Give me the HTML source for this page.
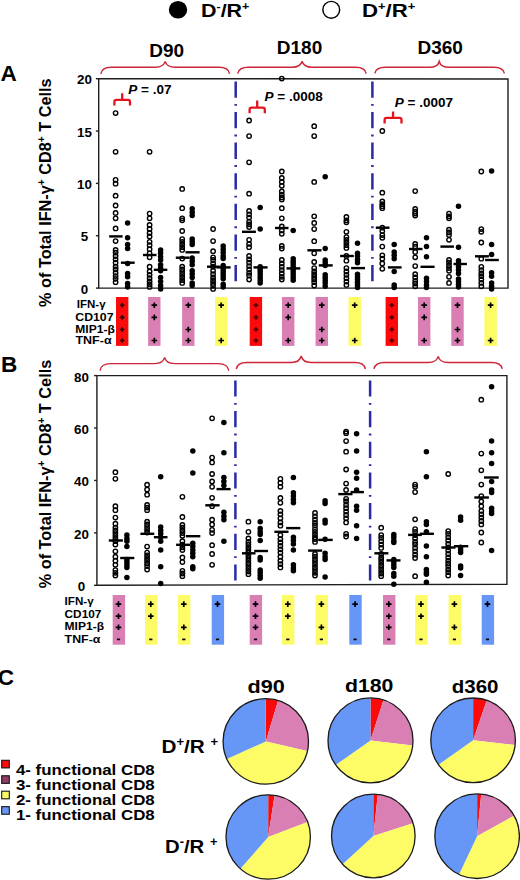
<!DOCTYPE html><html><head><meta charset="utf-8"><style>html,body{margin:0;padding:0;background:#fff;overflow:hidden}svg{display:block}text{font-family:"Liberation Sans",sans-serif;font-weight:bold;fill:#000}</style></head><body><svg width="520" height="880" viewBox="0 0 520 880"><ellipse cx="178" cy="9.8" rx="9.2" ry="8.8" fill="#000"/>
<text transform="translate(201,17.1) scale(1.13,1)" font-size="19" text-anchor="start" >D<tspan font-size="11" dy="-7">-</tspan><tspan dy="7">/R</tspan><tspan font-size="11" dy="-7">+</tspan></text>
<circle cx="331.25" cy="9.75" r="8.4" fill="none" stroke="#000" stroke-width="1.45"/>
<text transform="translate(362,16.9) scale(1.17,1)" font-size="19" text-anchor="start" >D<tspan font-size="11" dy="-7">+</tspan><tspan dy="7">/R</tspan><tspan font-size="11" dy="-7">+</tspan></text>
<text transform="translate(166.7,56.7) scale(1.0,1)" font-size="19" text-anchor="middle" >D90</text>
<text transform="translate(299.5,53.7) scale(1.0,1)" font-size="19" text-anchor="middle" >D180</text>
<text transform="translate(440.2,54) scale(1.0,1)" font-size="19" text-anchor="middle" >D360</text>
<path d="M100.8,73.8 C101.6,69.3 104.8,67.3 111.3,67.3 L155.2,67.3 C161.2,67.3 164.2,65.3 165.2,61.4 C166.2,65.3 169.2,67.3 175.2,67.3 L219.1,67.3 C225.6,67.3 228.79999999999998,69.3 229.6,73.8" fill="none" stroke="#cf2538" stroke-width="1.45"/>
<path d="M237.7,73.6 C238.5,69.3 241.7,67.3 248.2,67.3 L292.1,67.3 C298.1,67.3 301.1,65.3 302.1,61.3 C303.1,65.3 306.1,67.3 312.1,67.3 L355.7,67.3 C362.2,67.3 365.4,69.3 366.2,73.6" fill="none" stroke="#cf2538" stroke-width="1.45"/>
<path d="M374.8,73.4 C375.6,69.3 378.8,67.3 385.3,67.3 L429.2,67.3 C435.2,67.3 438.2,65.3 439.2,61.5 C440.2,65.3 443.2,67.3 449.2,67.3 L493.9,67.3 C500.4,67.3 503.59999999999997,69.3 504.4,73.4" fill="none" stroke="#cf2538" stroke-width="1.45"/>
<path d="M100,370.6 C100.8,365.6 104,363.6 110.5,363.6 L154.6,363.6 C160.6,363.6 163.6,361.6 164.6,357.4 C165.6,361.6 168.6,363.6 174.6,363.6 L218.3,363.6 C224.8,363.6 228.0,365.6 228.8,370.6" fill="none" stroke="#cf2538" stroke-width="1.45"/>
<path d="M236.3,369 C237.10000000000002,364.5 240.3,362.5 246.8,362.5 L291.2,362.5 C297.2,362.5 300.2,360.5 301.2,356 C302.2,360.5 305.2,362.5 311.2,362.5 L354.9,362.5 C361.4,362.5 364.59999999999997,364.5 365.4,369" fill="none" stroke="#cf2538" stroke-width="1.45"/>
<path d="M374,368.8 C374.8,364.4 378,362.4 384.5,362.4 L428.2,362.4 C434.2,362.4 437.2,360.4 438.2,356.3 C439.2,360.4 442.2,362.4 448.2,362.4 L491.7,362.4 C498.2,362.4 501.4,364.4 502.2,368.8" fill="none" stroke="#cf2538" stroke-width="1.45"/>
<text transform="translate(0.6,81.3) scale(1.05,1)" font-size="21.5" text-anchor="start" >A</text>
<text transform="translate(1.0,371.8) scale(1.05,1)" font-size="21.5" text-anchor="start" >B</text>
<text transform="translate(-2.3,684.8) scale(1.05,1)" font-size="21.5" text-anchor="start" >C</text>
<text transform="translate(50.8,192.7) rotate(-90)" font-size="16.3" text-anchor="middle">% of Total IFN-&#947;<tspan font-size="10" dy="-6">+</tspan><tspan dy="6"> CD8</tspan><tspan font-size="10" dy="-6">+</tspan><tspan dy="6"> T Cells</tspan></text>
<text transform="translate(51.2,474) rotate(-90)" font-size="16.3" text-anchor="middle">% of Total IFN-&#947;<tspan font-size="10" dy="-6">+</tspan><tspan dy="6"> CD8</tspan><tspan font-size="10" dy="-6">+</tspan><tspan dy="6"> T Cells</tspan></text>
<path d="M98.7,78.7 L508,79.0 L508,288.1 L98.7,288.1 Z" fill="none" stroke="#1e1e1e" stroke-width="1.4"/>
<line x1="95.9" y1="288.1" x2="98.7" y2="288.1" stroke="#1e1e1e" stroke-width="1.4"/>
<text transform="translate(84.5,293.6) scale(1.0,1)" font-size="13.4" text-anchor="middle" >0</text>
<line x1="95.9" y1="235.75" x2="98.7" y2="235.75" stroke="#1e1e1e" stroke-width="1.4"/>
<text transform="translate(84.5,241.25) scale(1.0,1)" font-size="13.4" text-anchor="middle" >5</text>
<line x1="95.9" y1="183.4" x2="98.7" y2="183.4" stroke="#1e1e1e" stroke-width="1.4"/>
<text transform="translate(84.5,188.9) scale(1.0,1)" font-size="13.4" text-anchor="middle" >10</text>
<line x1="95.9" y1="131.05" x2="98.7" y2="131.05" stroke="#1e1e1e" stroke-width="1.4"/>
<text transform="translate(84.5,136.55) scale(1.0,1)" font-size="13.4" text-anchor="middle" >15</text>
<line x1="95.9" y1="78.69999999999999" x2="98.7" y2="78.69999999999999" stroke="#1e1e1e" stroke-width="1.4"/>
<text transform="translate(84.5,84.19999999999999) scale(1.0,1)" font-size="13.4" text-anchor="middle" >20</text>
<path d="M96.9,375.6 L506.9,375.6 L506.9,584.1999999999999 L96.9,585.3 Z" fill="none" stroke="#1e1e1e" stroke-width="1.4"/>
<line x1="94.10000000000001" y1="585.3" x2="96.9" y2="585.3" stroke="#1e1e1e" stroke-width="1.4"/>
<text transform="translate(81.5,591.1999999999999) scale(1.0,1)" font-size="13.4" text-anchor="middle" >0</text>
<line x1="94.10000000000001" y1="532.875" x2="96.9" y2="532.875" stroke="#1e1e1e" stroke-width="1.4"/>
<text transform="translate(81.5,538.775) scale(1.0,1)" font-size="13.4" text-anchor="middle" >20</text>
<line x1="94.10000000000001" y1="480.45" x2="96.9" y2="480.45" stroke="#1e1e1e" stroke-width="1.4"/>
<text transform="translate(81.5,486.34999999999997) scale(1.0,1)" font-size="13.4" text-anchor="middle" >40</text>
<line x1="94.10000000000001" y1="428.025" x2="96.9" y2="428.025" stroke="#1e1e1e" stroke-width="1.4"/>
<text transform="translate(81.5,433.92499999999995) scale(1.0,1)" font-size="13.4" text-anchor="middle" >60</text>
<line x1="94.10000000000001" y1="375.6" x2="96.9" y2="375.6" stroke="#1e1e1e" stroke-width="1.4"/>
<text transform="translate(81.5,381.5) scale(1.0,1)" font-size="13.4" text-anchor="middle" >80</text>
<line x1="235.7" y1="81.4" x2="235.7" y2="285" stroke="#2a2aa6" stroke-width="2.5" stroke-dasharray="16.3 6.2 1.9 6.2"/>
<line x1="372.4" y1="81.4" x2="372.4" y2="285" stroke="#2a2aa6" stroke-width="2.5" stroke-dasharray="16.3 6.2 1.9 6.2"/>
<line x1="235.4" y1="380.4" x2="235.4" y2="582.5" stroke="#2a2aa6" stroke-width="2.5" stroke-dasharray="16.2 6.35 1.8 6.32"/>
<line x1="370.1" y1="380.4" x2="370.1" y2="582.5" stroke="#2a2aa6" stroke-width="2.5" stroke-dasharray="16.2 6.35 1.8 6.32"/>
<text transform="translate(76.8,307.75) scale(1.096,1)" font-size="10.5" text-anchor="start" >IFN-&#947;</text>
<text transform="translate(75.3,321.1) scale(1.171,1)" font-size="10.5" text-anchor="start" >CD107</text>
<text transform="translate(75.3,332.75) scale(1.149,1)" font-size="10.5" text-anchor="start" >MIP1-&#946;</text>
<text transform="translate(75.5,344.25) scale(1.189,1)" font-size="10.5" text-anchor="start" >TNF-&#945;</text>
<rect x="116.0" y="297" width="12.4" height="48.9" fill="#fa0a0a"/>
<path d="M119.9,305.2 H124.5 M122.2,302.9 V307.5" stroke="#3a0000" stroke-width="1.6"/>
<path d="M119.9,317.4 H124.5 M122.2,315.09999999999997 V319.7" stroke="#3a0000" stroke-width="1.6"/>
<path d="M119.9,329.5 H124.5 M122.2,327.2 V331.8" stroke="#3a0000" stroke-width="1.6"/>
<path d="M119.9,340.5 H124.5 M122.2,338.2 V342.8" stroke="#3a0000" stroke-width="1.6"/>
<rect x="148.1" y="297" width="12.4" height="48.9" fill="#da7fb4"/>
<path d="M151.49999999999997,305.2 H157.1 M154.29999999999998,302.4 V308.0" stroke="#000" stroke-width="1.7"/>
<path d="M151.49999999999997,317.4 H157.1 M154.29999999999998,314.59999999999997 V320.2" stroke="#000" stroke-width="1.7"/>
<path d="M151.49999999999997,340.5 H157.1 M154.29999999999998,337.7 V343.3" stroke="#000" stroke-width="1.7"/>
<rect x="182.1" y="297" width="12.4" height="48.9" fill="#da7fb4"/>
<path d="M185.49999999999997,305.2 H191.1 M188.29999999999998,302.4 V308.0" stroke="#000" stroke-width="1.7"/>
<path d="M185.49999999999997,329.5 H191.1 M188.29999999999998,326.7 V332.3" stroke="#000" stroke-width="1.7"/>
<path d="M185.49999999999997,340.5 H191.1 M188.29999999999998,337.7 V343.3" stroke="#000" stroke-width="1.7"/>
<rect x="215" y="297" width="12.4" height="48.9" fill="#fdfc66"/>
<path d="M218.39999999999998,305.2 H224.0 M221.2,302.4 V308.0" stroke="#000" stroke-width="1.7"/>
<path d="M218.39999999999998,340.5 H224.0 M221.2,337.7 V343.3" stroke="#000" stroke-width="1.7"/>
<rect x="249.7" y="297" width="12.4" height="48.9" fill="#fa0a0a"/>
<path d="M253.59999999999997,305.2 H258.2 M255.89999999999998,302.9 V307.5" stroke="#3a0000" stroke-width="1.6"/>
<path d="M253.59999999999997,317.4 H258.2 M255.89999999999998,315.09999999999997 V319.7" stroke="#3a0000" stroke-width="1.6"/>
<path d="M253.59999999999997,329.5 H258.2 M255.89999999999998,327.2 V331.8" stroke="#3a0000" stroke-width="1.6"/>
<path d="M253.59999999999997,340.5 H258.2 M255.89999999999998,338.2 V342.8" stroke="#3a0000" stroke-width="1.6"/>
<rect x="282" y="297" width="12.4" height="48.9" fill="#da7fb4"/>
<path d="M285.4,305.2 H291.0 M288.2,302.4 V308.0" stroke="#000" stroke-width="1.7"/>
<path d="M285.4,317.4 H291.0 M288.2,314.59999999999997 V320.2" stroke="#000" stroke-width="1.7"/>
<path d="M285.4,340.5 H291.0 M288.2,337.7 V343.3" stroke="#000" stroke-width="1.7"/>
<rect x="315.6" y="297" width="12.4" height="48.9" fill="#da7fb4"/>
<path d="M319.0,305.2 H324.6 M321.8,302.4 V308.0" stroke="#000" stroke-width="1.7"/>
<path d="M319.0,329.5 H324.6 M321.8,326.7 V332.3" stroke="#000" stroke-width="1.7"/>
<path d="M319.0,340.5 H324.6 M321.8,337.7 V343.3" stroke="#000" stroke-width="1.7"/>
<rect x="348.5" y="297" width="12.4" height="48.9" fill="#fdfc66"/>
<path d="M351.9,305.2 H357.5 M354.7,302.4 V308.0" stroke="#000" stroke-width="1.7"/>
<path d="M351.9,340.5 H357.5 M354.7,337.7 V343.3" stroke="#000" stroke-width="1.7"/>
<rect x="385.6" y="297" width="12.4" height="48.9" fill="#fa0a0a"/>
<path d="M389.5,305.2 H394.1 M391.8,302.9 V307.5" stroke="#3a0000" stroke-width="1.6"/>
<path d="M389.5,317.4 H394.1 M391.8,315.09999999999997 V319.7" stroke="#3a0000" stroke-width="1.6"/>
<path d="M389.5,329.5 H394.1 M391.8,327.2 V331.8" stroke="#3a0000" stroke-width="1.6"/>
<path d="M389.5,340.5 H394.1 M391.8,338.2 V342.8" stroke="#3a0000" stroke-width="1.6"/>
<rect x="418" y="297" width="12.4" height="48.9" fill="#da7fb4"/>
<path d="M421.4,305.2 H427.0 M424.2,302.4 V308.0" stroke="#000" stroke-width="1.7"/>
<path d="M421.4,317.4 H427.0 M424.2,314.59999999999997 V320.2" stroke="#000" stroke-width="1.7"/>
<path d="M421.4,340.5 H427.0 M424.2,337.7 V343.3" stroke="#000" stroke-width="1.7"/>
<rect x="451.3" y="297" width="12.4" height="48.9" fill="#da7fb4"/>
<path d="M454.7,305.2 H460.3 M457.5,302.4 V308.0" stroke="#000" stroke-width="1.7"/>
<path d="M454.7,329.5 H460.3 M457.5,326.7 V332.3" stroke="#000" stroke-width="1.7"/>
<path d="M454.7,340.5 H460.3 M457.5,337.7 V343.3" stroke="#000" stroke-width="1.7"/>
<rect x="484.4" y="297" width="12.4" height="48.9" fill="#fdfc66"/>
<path d="M487.79999999999995,305.2 H493.4 M490.59999999999997,302.4 V308.0" stroke="#000" stroke-width="1.7"/>
<path d="M487.79999999999995,340.5 H493.4 M490.59999999999997,337.7 V343.3" stroke="#000" stroke-width="1.7"/>
<text transform="translate(64.6,605.2) scale(1.108,1)" font-size="10.5" text-anchor="start" >IFN-&#947;</text>
<text transform="translate(64.6,618) scale(1.124,1)" font-size="10.5" text-anchor="start" >CD107</text>
<text transform="translate(64.6,629.7) scale(1.146,1)" font-size="10.5" text-anchor="start" >MIP1-&#946;</text>
<text transform="translate(64.6,642.5) scale(1.179,1)" font-size="10.5" text-anchor="start" >TNF-&#945;</text>
<rect x="112.7" y="595" width="12.4" height="49.7" fill="#da7fb4"/>
<path d="M115.7,604.1 H121.3 M118.5,601.3000000000001 V606.9" stroke="#000" stroke-width="1.7"/>
<path d="M115.7,616.2 H121.3 M118.5,613.4000000000001 V619.0" stroke="#000" stroke-width="1.7"/>
<path d="M115.7,627.3 H121.3 M118.5,624.5 V630.0999999999999" stroke="#000" stroke-width="1.7"/>
<path d="M116.9,639.4 H120.1" stroke="#000" stroke-width="1.7"/>
<rect x="145.0" y="595" width="12.4" height="49.7" fill="#fdfc66"/>
<path d="M148.0,604.1 H153.60000000000002 M150.8,601.3000000000001 V606.9" stroke="#000" stroke-width="1.7"/>
<path d="M148.0,616.2 H153.60000000000002 M150.8,613.4000000000001 V619.0" stroke="#000" stroke-width="1.7"/>
<path d="M149.20000000000002,639.4 H152.4" stroke="#000" stroke-width="1.7"/>
<rect x="178.0" y="595" width="12.4" height="49.7" fill="#fdfc66"/>
<path d="M181.0,604.1 H186.60000000000002 M183.8,601.3000000000001 V606.9" stroke="#000" stroke-width="1.7"/>
<path d="M181.0,627.3 H186.60000000000002 M183.8,624.5 V630.0999999999999" stroke="#000" stroke-width="1.7"/>
<path d="M182.20000000000002,639.4 H185.4" stroke="#000" stroke-width="1.7"/>
<rect x="211.7" y="595" width="12.4" height="49.7" fill="#6697f7"/>
<path d="M214.7,604.1 H220.3 M217.5,601.3000000000001 V606.9" stroke="#000" stroke-width="1.7"/>
<path d="M215.9,639.4 H219.1" stroke="#000" stroke-width="1.7"/>
<rect x="249.7" y="595" width="12.4" height="49.7" fill="#da7fb4"/>
<path d="M252.7,604.1 H258.3 M255.5,601.3000000000001 V606.9" stroke="#000" stroke-width="1.7"/>
<path d="M252.7,616.2 H258.3 M255.5,613.4000000000001 V619.0" stroke="#000" stroke-width="1.7"/>
<path d="M252.7,627.3 H258.3 M255.5,624.5 V630.0999999999999" stroke="#000" stroke-width="1.7"/>
<path d="M253.9,639.4 H257.1" stroke="#000" stroke-width="1.7"/>
<rect x="282" y="595" width="12.4" height="49.7" fill="#fdfc66"/>
<path d="M285.0,604.1 H290.6 M287.8,601.3000000000001 V606.9" stroke="#000" stroke-width="1.7"/>
<path d="M285.0,616.2 H290.6 M287.8,613.4000000000001 V619.0" stroke="#000" stroke-width="1.7"/>
<path d="M286.2,639.4 H289.40000000000003" stroke="#000" stroke-width="1.7"/>
<rect x="315.6" y="595" width="12.4" height="49.7" fill="#fdfc66"/>
<path d="M318.6,604.1 H324.20000000000005 M321.40000000000003,601.3000000000001 V606.9" stroke="#000" stroke-width="1.7"/>
<path d="M318.6,627.3 H324.20000000000005 M321.40000000000003,624.5 V630.0999999999999" stroke="#000" stroke-width="1.7"/>
<path d="M319.8,639.4 H323.00000000000006" stroke="#000" stroke-width="1.7"/>
<rect x="349.3" y="595" width="12.4" height="49.7" fill="#6697f7"/>
<path d="M352.3,604.1 H357.90000000000003 M355.1,601.3000000000001 V606.9" stroke="#000" stroke-width="1.7"/>
<path d="M353.5,639.4 H356.70000000000005" stroke="#000" stroke-width="1.7"/>
<rect x="383" y="595" width="12.4" height="49.7" fill="#da7fb4"/>
<path d="M386.0,604.1 H391.6 M388.8,601.3000000000001 V606.9" stroke="#000" stroke-width="1.7"/>
<path d="M386.0,616.2 H391.6 M388.8,613.4000000000001 V619.0" stroke="#000" stroke-width="1.7"/>
<path d="M386.0,627.3 H391.6 M388.8,624.5 V630.0999999999999" stroke="#000" stroke-width="1.7"/>
<path d="M387.2,639.4 H390.40000000000003" stroke="#000" stroke-width="1.7"/>
<rect x="415.2" y="595" width="12.4" height="49.7" fill="#fdfc66"/>
<path d="M418.2,604.1 H423.8 M421.0,601.3000000000001 V606.9" stroke="#000" stroke-width="1.7"/>
<path d="M418.2,616.2 H423.8 M421.0,613.4000000000001 V619.0" stroke="#000" stroke-width="1.7"/>
<path d="M419.4,639.4 H422.6" stroke="#000" stroke-width="1.7"/>
<rect x="448.6" y="595" width="12.4" height="49.7" fill="#fdfc66"/>
<path d="M451.6,604.1 H457.20000000000005 M454.40000000000003,601.3000000000001 V606.9" stroke="#000" stroke-width="1.7"/>
<path d="M451.6,627.3 H457.20000000000005 M454.40000000000003,624.5 V630.0999999999999" stroke="#000" stroke-width="1.7"/>
<path d="M452.8,639.4 H456.00000000000006" stroke="#000" stroke-width="1.7"/>
<rect x="481.7" y="595" width="12.4" height="49.7" fill="#6697f7"/>
<path d="M484.7,604.1 H490.3 M487.5,601.3000000000001 V606.9" stroke="#000" stroke-width="1.7"/>
<path d="M485.9,639.4 H489.1" stroke="#000" stroke-width="1.7"/>
<rect x="1.7" y="760.3" width="7.6" height="7.6" fill="#fa0a0a" stroke="#151515" stroke-width="1.1"/>
<text transform="translate(15.9,774.6) scale(1.09,1)" font-size="15.5" text-anchor="start" >4- functional CD8</text>
<rect x="1.7" y="775.75" width="7.6" height="7.6" fill="#8e3d66" stroke="#151515" stroke-width="1.1"/>
<text transform="translate(15.9,789.75) scale(1.09,1)" font-size="15.5" text-anchor="start" >3- functional CD8</text>
<rect x="1.7" y="791.1999999999999" width="7.6" height="7.6" fill="#fdfc66" stroke="#151515" stroke-width="1.1"/>
<text transform="translate(15.9,804.9) scale(1.09,1)" font-size="15.5" text-anchor="start" >2- functional CD8</text>
<rect x="1.7" y="806.65" width="7.6" height="7.6" fill="#6697f7" stroke="#151515" stroke-width="1.1"/>
<text transform="translate(15.9,820.0500000000001) scale(1.09,1)" font-size="15.5" text-anchor="start" >1- functional CD8</text>
<text transform="translate(266.1,693) scale(1.14,1)" font-size="19" text-anchor="middle" >d90</text>
<text transform="translate(369.2,691.8) scale(1.12,1)" font-size="19" text-anchor="middle" >d180</text>
<text transform="translate(475.1,693.2) scale(1.08,1)" font-size="19" text-anchor="middle" >d360</text>
<text transform="translate(161.5,753.3) scale(1.09,1)" font-size="19" text-anchor="start" >D<tspan font-size="12" dy="-7">+</tspan><tspan dy="7">/R </tspan><tspan font-size="12" dy="-7">+</tspan></text>
<text transform="translate(165,853) scale(1.07,1)" font-size="19" text-anchor="start" >D<tspan font-size="12" dy="-7">-</tspan><tspan dy="7">/R </tspan><tspan font-size="12" dy="-7">+</tspan></text>
<path d="M265.8,741.4 L265.80,698.70 A42.7,42.7 0 0 1 278.14,700.52 Z" fill="#fa0a0a"/><path d="M265.8,741.4 L278.14,700.52 A42.7,42.7 0 0 1 307.39,751.08 Z" fill="#da7fb4"/><path d="M265.8,741.4 L307.39,751.08 A42.7,42.7 0 0 1 226.85,758.90 Z" fill="#fdfc66"/><path d="M265.8,741.4 L226.85,758.90 A42.7,42.7 0 0 1 265.80,698.70 Z" fill="#6697f7"/><circle cx="265.8" cy="741.4" r="42.7" fill="none" stroke="#1a1a1a" stroke-width="1.3"/>
<path d="M268.2,837 L268.20,794.80 A42.2,42.2 0 0 1 274.58,795.29 Z" fill="#fa0a0a"/><path d="M268.2,837 L274.58,795.29 A42.2,42.2 0 0 1 307.68,822.08 Z" fill="#da7fb4"/><path d="M268.2,837 L307.68,822.08 A42.2,42.2 0 0 1 240.40,868.75 Z" fill="#fdfc66"/><path d="M268.2,837 L240.40,868.75 A42.2,42.2 0 0 1 268.20,794.80 Z" fill="#6697f7"/><circle cx="268.2" cy="837" r="42.2" fill="none" stroke="#1a1a1a" stroke-width="1.3"/>
<path d="M370.5,740.4 L370.50,697.90 A42.5,42.5 0 0 1 383.49,699.93 Z" fill="#fa0a0a"/><path d="M370.5,740.4 L383.49,699.93 A42.5,42.5 0 0 1 412.69,745.51 Z" fill="#da7fb4"/><path d="M370.5,740.4 L412.69,745.51 A42.5,42.5 0 0 1 335.77,764.90 Z" fill="#fdfc66"/><path d="M370.5,740.4 L335.77,764.90 A42.5,42.5 0 0 1 370.50,697.90 Z" fill="#6697f7"/><circle cx="370.5" cy="740.4" r="42.5" fill="none" stroke="#1a1a1a" stroke-width="1.3"/>
<path d="M373.3,836 L373.30,794.20 A41.8,41.8 0 0 1 377.81,794.44 Z" fill="#fa0a0a"/><path d="M373.3,836 L377.81,794.44 A41.8,41.8 0 0 1 413.12,823.29 Z" fill="#da7fb4"/><path d="M373.3,836 L413.12,823.29 A41.8,41.8 0 0 1 342.53,864.29 Z" fill="#fdfc66"/><path d="M373.3,836 L342.53,864.29 A41.8,41.8 0 0 1 373.30,794.20 Z" fill="#6697f7"/><circle cx="373.3" cy="836" r="41.8" fill="none" stroke="#1a1a1a" stroke-width="1.3"/>
<path d="M473.1,740.3 L473.10,698.00 A42.3,42.3 0 0 1 486.80,700.28 Z" fill="#fa0a0a"/><path d="M473.1,740.3 L486.80,700.28 A42.3,42.3 0 0 1 515.13,745.09 Z" fill="#da7fb4"/><path d="M473.1,740.3 L515.13,745.09 A42.3,42.3 0 0 1 438.53,764.68 Z" fill="#fdfc66"/><path d="M473.1,740.3 L438.53,764.68 A42.3,42.3 0 0 1 473.10,698.00 Z" fill="#6697f7"/><circle cx="473.1" cy="740.3" r="42.3" fill="none" stroke="#1a1a1a" stroke-width="1.3"/>
<path d="M477.1,836.2 L477.10,793.90 A42.3,42.3 0 0 1 481.23,794.10 Z" fill="#fa0a0a"/><path d="M477.1,836.2 L481.23,794.10 A42.3,42.3 0 0 1 514.06,815.63 Z" fill="#da7fb4"/><path d="M477.1,836.2 L514.06,815.63 A42.3,42.3 0 0 1 459.02,874.44 Z" fill="#fdfc66"/><path d="M477.1,836.2 L459.02,874.44 A42.3,42.3 0 0 1 477.10,793.90 Z" fill="#6697f7"/><circle cx="477.1" cy="836.2" r="42.3" fill="none" stroke="#1a1a1a" stroke-width="1.3"/>
<circle cx="115.6" cy="113.1" r="2.2" fill="none" stroke="#000" stroke-width="1.4"/>
<circle cx="115.6" cy="151.8" r="2.2" fill="none" stroke="#000" stroke-width="1.4"/>
<circle cx="115.6" cy="179.8" r="2.2" fill="none" stroke="#000" stroke-width="1.4"/>
<circle cx="115.6" cy="183.7" r="2.2" fill="none" stroke="#000" stroke-width="1.4"/>
<circle cx="115.6" cy="195.7" r="2.2" fill="none" stroke="#000" stroke-width="1.4"/>
<circle cx="115.6" cy="205.5" r="2.2" fill="none" stroke="#000" stroke-width="1.4"/>
<circle cx="115.6" cy="212.9" r="2.2" fill="none" stroke="#000" stroke-width="1.4"/>
<circle cx="115.6" cy="218.3" r="2.2" fill="none" stroke="#000" stroke-width="1.4"/>
<circle cx="115.6" cy="228.4" r="2.2" fill="none" stroke="#000" stroke-width="1.4"/>
<circle cx="115.6" cy="241.1" r="2.2" fill="none" stroke="#000" stroke-width="1.4"/>
<circle cx="115.6" cy="249.9" r="2.2" fill="none" stroke="#000" stroke-width="1.4"/>
<circle cx="115.6" cy="252.6" r="2.2" fill="none" stroke="#000" stroke-width="1.4"/>
<circle cx="115.6" cy="256" r="2.2" fill="none" stroke="#000" stroke-width="1.4"/>
<circle cx="115.6" cy="259.3" r="2.2" fill="none" stroke="#000" stroke-width="1.4"/>
<circle cx="115.6" cy="262.7" r="2.2" fill="none" stroke="#000" stroke-width="1.4"/>
<circle cx="115.6" cy="266.7" r="2.2" fill="none" stroke="#000" stroke-width="1.4"/>
<circle cx="115.6" cy="269.4" r="2.2" fill="none" stroke="#000" stroke-width="1.4"/>
<circle cx="115.6" cy="272.8" r="2.2" fill="none" stroke="#000" stroke-width="1.4"/>
<circle cx="115.6" cy="276.1" r="2.2" fill="none" stroke="#000" stroke-width="1.4"/>
<circle cx="115.6" cy="278.8" r="2.2" fill="none" stroke="#000" stroke-width="1.4"/>
<circle cx="115.6" cy="282.2" r="2.2" fill="none" stroke="#000" stroke-width="1.4"/>
<circle cx="127.6" cy="223" r="2.75" fill="#000"/>
<circle cx="127.6" cy="237.8" r="2.75" fill="#000"/>
<circle cx="127.6" cy="244.5" r="2.75" fill="#000"/>
<circle cx="127.6" cy="248.5" r="2.75" fill="#000"/>
<circle cx="127.6" cy="263.4" r="2.75" fill="#000"/>
<circle cx="127.6" cy="273.4" r="2.75" fill="#000"/>
<circle cx="127.6" cy="276.8" r="2.75" fill="#000"/>
<circle cx="127.6" cy="283.5" r="2.75" fill="#000"/>
<circle cx="127.6" cy="287" r="2.75" fill="#000"/>
<circle cx="149.6" cy="151.8" r="2.2" fill="none" stroke="#000" stroke-width="1.4"/>
<circle cx="149.6" cy="213.6" r="2.2" fill="none" stroke="#000" stroke-width="1.4"/>
<circle cx="149.6" cy="218.3" r="2.2" fill="none" stroke="#000" stroke-width="1.4"/>
<circle cx="149.6" cy="225" r="2.2" fill="none" stroke="#000" stroke-width="1.4"/>
<circle cx="149.6" cy="229" r="2.2" fill="none" stroke="#000" stroke-width="1.4"/>
<circle cx="149.6" cy="233" r="2.2" fill="none" stroke="#000" stroke-width="1.4"/>
<circle cx="149.6" cy="236.4" r="2.2" fill="none" stroke="#000" stroke-width="1.4"/>
<circle cx="149.6" cy="241.8" r="2.2" fill="none" stroke="#000" stroke-width="1.4"/>
<circle cx="149.6" cy="245.2" r="2.2" fill="none" stroke="#000" stroke-width="1.4"/>
<circle cx="149.6" cy="249.2" r="2.2" fill="none" stroke="#000" stroke-width="1.4"/>
<circle cx="149.6" cy="253.3" r="2.2" fill="none" stroke="#000" stroke-width="1.4"/>
<circle cx="149.6" cy="257.3" r="2.2" fill="none" stroke="#000" stroke-width="1.4"/>
<circle cx="149.6" cy="266.7" r="2.2" fill="none" stroke="#000" stroke-width="1.4"/>
<circle cx="149.6" cy="271.4" r="2.2" fill="none" stroke="#000" stroke-width="1.4"/>
<circle cx="149.6" cy="274.8" r="2.2" fill="none" stroke="#000" stroke-width="1.4"/>
<circle cx="149.6" cy="278.2" r="2.2" fill="none" stroke="#000" stroke-width="1.4"/>
<circle cx="149.6" cy="281.5" r="2.2" fill="none" stroke="#000" stroke-width="1.4"/>
<circle cx="149.6" cy="284.2" r="2.2" fill="none" stroke="#000" stroke-width="1.4"/>
<circle cx="149.6" cy="286.9" r="2.2" fill="none" stroke="#000" stroke-width="1.4"/>
<circle cx="160.6" cy="249.9" r="2.75" fill="#000"/>
<circle cx="160.6" cy="253.3" r="2.75" fill="#000"/>
<circle cx="160.6" cy="256.6" r="2.75" fill="#000"/>
<circle cx="160.6" cy="260" r="2.75" fill="#000"/>
<circle cx="160.6" cy="264.7" r="2.75" fill="#000"/>
<circle cx="160.6" cy="268" r="2.75" fill="#000"/>
<circle cx="160.6" cy="270.8" r="2.75" fill="#000"/>
<circle cx="160.6" cy="277.5" r="2.75" fill="#000"/>
<circle cx="160.6" cy="281.5" r="2.75" fill="#000"/>
<circle cx="160.6" cy="285.6" r="2.75" fill="#000"/>
<circle cx="160.6" cy="289" r="2.75" fill="#000"/>
<circle cx="182.2" cy="188.9" r="2.2" fill="none" stroke="#000" stroke-width="1.4"/>
<circle cx="182.2" cy="208.2" r="2.2" fill="none" stroke="#000" stroke-width="1.4"/>
<circle cx="182.2" cy="218.3" r="2.2" fill="none" stroke="#000" stroke-width="1.4"/>
<circle cx="182.2" cy="220.3" r="2.2" fill="none" stroke="#000" stroke-width="1.4"/>
<circle cx="182.2" cy="231" r="2.2" fill="none" stroke="#000" stroke-width="1.4"/>
<circle cx="182.2" cy="239.1" r="2.2" fill="none" stroke="#000" stroke-width="1.4"/>
<circle cx="182.2" cy="241.8" r="2.2" fill="none" stroke="#000" stroke-width="1.4"/>
<circle cx="182.2" cy="244.5" r="2.2" fill="none" stroke="#000" stroke-width="1.4"/>
<circle cx="182.2" cy="247.2" r="2.2" fill="none" stroke="#000" stroke-width="1.4"/>
<circle cx="182.2" cy="249.9" r="2.2" fill="none" stroke="#000" stroke-width="1.4"/>
<circle cx="182.2" cy="258.6" r="2.2" fill="none" stroke="#000" stroke-width="1.4"/>
<circle cx="182.2" cy="266.7" r="2.2" fill="none" stroke="#000" stroke-width="1.4"/>
<circle cx="182.2" cy="269.4" r="2.2" fill="none" stroke="#000" stroke-width="1.4"/>
<circle cx="182.2" cy="272.1" r="2.2" fill="none" stroke="#000" stroke-width="1.4"/>
<circle cx="182.2" cy="274.8" r="2.2" fill="none" stroke="#000" stroke-width="1.4"/>
<circle cx="182.2" cy="277.5" r="2.2" fill="none" stroke="#000" stroke-width="1.4"/>
<circle cx="182.2" cy="280.2" r="2.2" fill="none" stroke="#000" stroke-width="1.4"/>
<circle cx="182.2" cy="282.9" r="2.2" fill="none" stroke="#000" stroke-width="1.4"/>
<circle cx="192.2" cy="208.8" r="2.75" fill="#000"/>
<circle cx="192.2" cy="212.2" r="2.75" fill="#000"/>
<circle cx="192.2" cy="215.6" r="2.75" fill="#000"/>
<circle cx="192.2" cy="239.1" r="2.75" fill="#000"/>
<circle cx="192.2" cy="241.8" r="2.75" fill="#000"/>
<circle cx="192.2" cy="244.5" r="2.75" fill="#000"/>
<circle cx="192.2" cy="258" r="2.75" fill="#000"/>
<circle cx="192.2" cy="261.3" r="2.75" fill="#000"/>
<circle cx="192.2" cy="264.7" r="2.75" fill="#000"/>
<circle cx="192.2" cy="270.8" r="2.75" fill="#000"/>
<circle cx="192.2" cy="274.1" r="2.75" fill="#000"/>
<circle cx="192.2" cy="277.5" r="2.75" fill="#000"/>
<circle cx="192.2" cy="282.9" r="2.75" fill="#000"/>
<circle cx="192.2" cy="285.6" r="2.75" fill="#000"/>
<circle cx="213.1" cy="229" r="2.2" fill="none" stroke="#000" stroke-width="1.4"/>
<circle cx="213.1" cy="241.1" r="2.2" fill="none" stroke="#000" stroke-width="1.4"/>
<circle cx="213.1" cy="251.2" r="2.2" fill="none" stroke="#000" stroke-width="1.4"/>
<circle cx="213.1" cy="257.3" r="2.2" fill="none" stroke="#000" stroke-width="1.4"/>
<circle cx="213.1" cy="260" r="2.2" fill="none" stroke="#000" stroke-width="1.4"/>
<circle cx="213.1" cy="263.4" r="2.2" fill="none" stroke="#000" stroke-width="1.4"/>
<circle cx="213.1" cy="266.7" r="2.2" fill="none" stroke="#000" stroke-width="1.4"/>
<circle cx="213.1" cy="270.8" r="2.2" fill="none" stroke="#000" stroke-width="1.4"/>
<circle cx="213.1" cy="274.1" r="2.2" fill="none" stroke="#000" stroke-width="1.4"/>
<circle cx="213.1" cy="277.5" r="2.2" fill="none" stroke="#000" stroke-width="1.4"/>
<circle cx="213.1" cy="280.2" r="2.2" fill="none" stroke="#000" stroke-width="1.4"/>
<circle cx="213.1" cy="282.9" r="2.2" fill="none" stroke="#000" stroke-width="1.4"/>
<circle cx="213.1" cy="285.6" r="2.2" fill="none" stroke="#000" stroke-width="1.4"/>
<circle cx="213.1" cy="288.9" r="2.2" fill="none" stroke="#000" stroke-width="1.4"/>
<circle cx="223.2" cy="245.9" r="2.75" fill="#000"/>
<circle cx="223.2" cy="249.2" r="2.75" fill="#000"/>
<circle cx="223.2" cy="252.6" r="2.75" fill="#000"/>
<circle cx="223.2" cy="256" r="2.75" fill="#000"/>
<circle cx="223.2" cy="258.6" r="2.75" fill="#000"/>
<circle cx="223.2" cy="265.4" r="2.75" fill="#000"/>
<circle cx="223.2" cy="268.1" r="2.75" fill="#000"/>
<circle cx="223.2" cy="270.8" r="2.75" fill="#000"/>
<circle cx="223.2" cy="273.4" r="2.75" fill="#000"/>
<circle cx="223.2" cy="276.1" r="2.75" fill="#000"/>
<circle cx="223.2" cy="278.8" r="2.75" fill="#000"/>
<circle cx="223.2" cy="284.2" r="2.75" fill="#000"/>
<circle cx="223.2" cy="286.9" r="2.75" fill="#000"/>
<circle cx="249.1" cy="120.5" r="2.2" fill="none" stroke="#000" stroke-width="1.4"/>
<circle cx="249.1" cy="136.1" r="2.2" fill="none" stroke="#000" stroke-width="1.4"/>
<circle cx="249.1" cy="162.3" r="2.2" fill="none" stroke="#000" stroke-width="1.4"/>
<circle cx="249.1" cy="193.7" r="2.2" fill="none" stroke="#000" stroke-width="1.4"/>
<circle cx="249.1" cy="210.9" r="2.2" fill="none" stroke="#000" stroke-width="1.4"/>
<circle cx="249.1" cy="214.3" r="2.2" fill="none" stroke="#000" stroke-width="1.4"/>
<circle cx="249.1" cy="217.6" r="2.2" fill="none" stroke="#000" stroke-width="1.4"/>
<circle cx="249.1" cy="221.7" r="2.2" fill="none" stroke="#000" stroke-width="1.4"/>
<circle cx="249.1" cy="224.4" r="2.2" fill="none" stroke="#000" stroke-width="1.4"/>
<circle cx="249.1" cy="227" r="2.2" fill="none" stroke="#000" stroke-width="1.4"/>
<circle cx="249.1" cy="239.8" r="2.2" fill="none" stroke="#000" stroke-width="1.4"/>
<circle cx="249.1" cy="243.9" r="2.2" fill="none" stroke="#000" stroke-width="1.4"/>
<circle cx="249.1" cy="247.2" r="2.2" fill="none" stroke="#000" stroke-width="1.4"/>
<circle cx="249.1" cy="256" r="2.2" fill="none" stroke="#000" stroke-width="1.4"/>
<circle cx="249.1" cy="259.4" r="2.2" fill="none" stroke="#000" stroke-width="1.4"/>
<circle cx="249.1" cy="262.7" r="2.2" fill="none" stroke="#000" stroke-width="1.4"/>
<circle cx="249.1" cy="266.1" r="2.2" fill="none" stroke="#000" stroke-width="1.4"/>
<circle cx="249.1" cy="269.4" r="2.2" fill="none" stroke="#000" stroke-width="1.4"/>
<circle cx="249.1" cy="272.8" r="2.2" fill="none" stroke="#000" stroke-width="1.4"/>
<circle cx="249.1" cy="275.5" r="2.2" fill="none" stroke="#000" stroke-width="1.4"/>
<circle cx="249.1" cy="279.5" r="2.2" fill="none" stroke="#000" stroke-width="1.4"/>
<circle cx="260.2" cy="207.5" r="2.75" fill="#000"/>
<circle cx="260.2" cy="229.1" r="2.75" fill="#000"/>
<circle cx="260.2" cy="266.8" r="2.75" fill="#000"/>
<circle cx="260.2" cy="269.4" r="2.75" fill="#000"/>
<circle cx="260.2" cy="272.1" r="2.75" fill="#000"/>
<circle cx="260.2" cy="274.8" r="2.75" fill="#000"/>
<circle cx="260.2" cy="277.5" r="2.75" fill="#000"/>
<circle cx="260.2" cy="280.2" r="2.75" fill="#000"/>
<circle cx="260.2" cy="282.9" r="2.75" fill="#000"/>
<circle cx="281.8" cy="78.6" r="2.2" fill="none" stroke="#000" stroke-width="1.4"/>
<circle cx="281.8" cy="171.4" r="2.2" fill="none" stroke="#000" stroke-width="1.4"/>
<circle cx="281.8" cy="178" r="2.2" fill="none" stroke="#000" stroke-width="1.4"/>
<circle cx="281.8" cy="181.9" r="2.2" fill="none" stroke="#000" stroke-width="1.4"/>
<circle cx="281.8" cy="185.8" r="2.2" fill="none" stroke="#000" stroke-width="1.4"/>
<circle cx="281.8" cy="191.4" r="2.2" fill="none" stroke="#000" stroke-width="1.4"/>
<circle cx="281.8" cy="194.7" r="2.2" fill="none" stroke="#000" stroke-width="1.4"/>
<circle cx="281.8" cy="197.4" r="2.2" fill="none" stroke="#000" stroke-width="1.4"/>
<circle cx="281.8" cy="199.5" r="2.2" fill="none" stroke="#000" stroke-width="1.4"/>
<circle cx="281.8" cy="208.2" r="2.2" fill="none" stroke="#000" stroke-width="1.4"/>
<circle cx="281.8" cy="218.3" r="2.2" fill="none" stroke="#000" stroke-width="1.4"/>
<circle cx="281.8" cy="226.4" r="2.2" fill="none" stroke="#000" stroke-width="1.4"/>
<circle cx="281.8" cy="230.4" r="2.2" fill="none" stroke="#000" stroke-width="1.4"/>
<circle cx="281.8" cy="233.8" r="2.2" fill="none" stroke="#000" stroke-width="1.4"/>
<circle cx="281.8" cy="245.9" r="2.2" fill="none" stroke="#000" stroke-width="1.4"/>
<circle cx="281.8" cy="248.6" r="2.2" fill="none" stroke="#000" stroke-width="1.4"/>
<circle cx="281.8" cy="260" r="2.2" fill="none" stroke="#000" stroke-width="1.4"/>
<circle cx="281.8" cy="263.4" r="2.2" fill="none" stroke="#000" stroke-width="1.4"/>
<circle cx="281.8" cy="266.8" r="2.2" fill="none" stroke="#000" stroke-width="1.4"/>
<circle cx="281.8" cy="270.1" r="2.2" fill="none" stroke="#000" stroke-width="1.4"/>
<circle cx="281.8" cy="273.5" r="2.2" fill="none" stroke="#000" stroke-width="1.4"/>
<circle cx="281.8" cy="276.8" r="2.2" fill="none" stroke="#000" stroke-width="1.4"/>
<circle cx="281.8" cy="279.5" r="2.2" fill="none" stroke="#000" stroke-width="1.4"/>
<circle cx="293.2" cy="230.4" r="2.75" fill="#000"/>
<circle cx="293.2" cy="258.7" r="2.75" fill="#000"/>
<circle cx="293.2" cy="261.4" r="2.75" fill="#000"/>
<circle cx="293.2" cy="264.1" r="2.75" fill="#000"/>
<circle cx="293.2" cy="266.8" r="2.75" fill="#000"/>
<circle cx="293.2" cy="269.4" r="2.75" fill="#000"/>
<circle cx="293.2" cy="272.1" r="2.75" fill="#000"/>
<circle cx="293.2" cy="274.8" r="2.75" fill="#000"/>
<circle cx="293.2" cy="277.5" r="2.75" fill="#000"/>
<circle cx="293.2" cy="280.2" r="2.75" fill="#000"/>
<circle cx="314.2" cy="126.2" r="2.2" fill="none" stroke="#000" stroke-width="1.4"/>
<circle cx="314.2" cy="136.1" r="2.2" fill="none" stroke="#000" stroke-width="1.4"/>
<circle cx="314.2" cy="181.9" r="2.2" fill="none" stroke="#000" stroke-width="1.4"/>
<circle cx="314.2" cy="216.3" r="2.2" fill="none" stroke="#000" stroke-width="1.4"/>
<circle cx="314.2" cy="223" r="2.2" fill="none" stroke="#000" stroke-width="1.4"/>
<circle cx="314.2" cy="229.1" r="2.2" fill="none" stroke="#000" stroke-width="1.4"/>
<circle cx="314.2" cy="241.2" r="2.2" fill="none" stroke="#000" stroke-width="1.4"/>
<circle cx="314.2" cy="253.3" r="2.2" fill="none" stroke="#000" stroke-width="1.4"/>
<circle cx="314.2" cy="262" r="2.2" fill="none" stroke="#000" stroke-width="1.4"/>
<circle cx="314.2" cy="268.1" r="2.2" fill="none" stroke="#000" stroke-width="1.4"/>
<circle cx="314.2" cy="271.5" r="2.2" fill="none" stroke="#000" stroke-width="1.4"/>
<circle cx="314.2" cy="274.2" r="2.2" fill="none" stroke="#000" stroke-width="1.4"/>
<circle cx="314.2" cy="276.9" r="2.2" fill="none" stroke="#000" stroke-width="1.4"/>
<circle cx="314.2" cy="279.5" r="2.2" fill="none" stroke="#000" stroke-width="1.4"/>
<circle cx="314.2" cy="282.2" r="2.2" fill="none" stroke="#000" stroke-width="1.4"/>
<circle cx="314.2" cy="285.6" r="2.2" fill="none" stroke="#000" stroke-width="1.4"/>
<circle cx="325.2" cy="176.7" r="2.75" fill="#000"/>
<circle cx="325.2" cy="248.6" r="2.75" fill="#000"/>
<circle cx="325.2" cy="260" r="2.75" fill="#000"/>
<circle cx="325.2" cy="262.7" r="2.75" fill="#000"/>
<circle cx="325.2" cy="265.4" r="2.75" fill="#000"/>
<circle cx="325.2" cy="274.8" r="2.75" fill="#000"/>
<circle cx="325.2" cy="277.5" r="2.75" fill="#000"/>
<circle cx="325.2" cy="280.2" r="2.75" fill="#000"/>
<circle cx="325.2" cy="282.9" r="2.75" fill="#000"/>
<circle cx="325.2" cy="286.3" r="2.75" fill="#000"/>
<circle cx="346.4" cy="217" r="2.2" fill="none" stroke="#000" stroke-width="1.4"/>
<circle cx="346.4" cy="220.3" r="2.2" fill="none" stroke="#000" stroke-width="1.4"/>
<circle cx="346.4" cy="222.3" r="2.2" fill="none" stroke="#000" stroke-width="1.4"/>
<circle cx="346.4" cy="231.8" r="2.2" fill="none" stroke="#000" stroke-width="1.4"/>
<circle cx="346.4" cy="237.1" r="2.2" fill="none" stroke="#000" stroke-width="1.4"/>
<circle cx="346.4" cy="239.8" r="2.2" fill="none" stroke="#000" stroke-width="1.4"/>
<circle cx="346.4" cy="242.5" r="2.2" fill="none" stroke="#000" stroke-width="1.4"/>
<circle cx="346.4" cy="245.2" r="2.2" fill="none" stroke="#000" stroke-width="1.4"/>
<circle cx="346.4" cy="247.9" r="2.2" fill="none" stroke="#000" stroke-width="1.4"/>
<circle cx="346.4" cy="256" r="2.2" fill="none" stroke="#000" stroke-width="1.4"/>
<circle cx="346.4" cy="260.7" r="2.2" fill="none" stroke="#000" stroke-width="1.4"/>
<circle cx="346.4" cy="268.1" r="2.2" fill="none" stroke="#000" stroke-width="1.4"/>
<circle cx="346.4" cy="271.5" r="2.2" fill="none" stroke="#000" stroke-width="1.4"/>
<circle cx="346.4" cy="274.8" r="2.2" fill="none" stroke="#000" stroke-width="1.4"/>
<circle cx="346.4" cy="278.2" r="2.2" fill="none" stroke="#000" stroke-width="1.4"/>
<circle cx="346.4" cy="281.6" r="2.2" fill="none" stroke="#000" stroke-width="1.4"/>
<circle cx="346.4" cy="284.9" r="2.2" fill="none" stroke="#000" stroke-width="1.4"/>
<circle cx="357.5" cy="243.2" r="2.75" fill="#000"/>
<circle cx="357.5" cy="253.3" r="2.75" fill="#000"/>
<circle cx="357.5" cy="256" r="2.75" fill="#000"/>
<circle cx="357.5" cy="259.4" r="2.75" fill="#000"/>
<circle cx="357.5" cy="262.7" r="2.75" fill="#000"/>
<circle cx="357.5" cy="274.2" r="2.75" fill="#000"/>
<circle cx="357.5" cy="276.9" r="2.75" fill="#000"/>
<circle cx="357.5" cy="279.5" r="2.75" fill="#000"/>
<circle cx="357.5" cy="282.2" r="2.75" fill="#000"/>
<circle cx="357.5" cy="284.9" r="2.75" fill="#000"/>
<circle cx="357.5" cy="287.6" r="2.75" fill="#000"/>
<circle cx="382.3" cy="131" r="2.2" fill="none" stroke="#000" stroke-width="1.4"/>
<circle cx="382.3" cy="192.7" r="2.2" fill="none" stroke="#000" stroke-width="1.4"/>
<circle cx="382.3" cy="201.5" r="2.2" fill="none" stroke="#000" stroke-width="1.4"/>
<circle cx="382.3" cy="204.2" r="2.2" fill="none" stroke="#000" stroke-width="1.4"/>
<circle cx="382.3" cy="206.2" r="2.2" fill="none" stroke="#000" stroke-width="1.4"/>
<circle cx="382.3" cy="208.2" r="2.2" fill="none" stroke="#000" stroke-width="1.4"/>
<circle cx="382.3" cy="227.7" r="2.2" fill="none" stroke="#000" stroke-width="1.4"/>
<circle cx="382.3" cy="231.1" r="2.2" fill="none" stroke="#000" stroke-width="1.4"/>
<circle cx="382.3" cy="235.1" r="2.2" fill="none" stroke="#000" stroke-width="1.4"/>
<circle cx="382.3" cy="237.8" r="2.2" fill="none" stroke="#000" stroke-width="1.4"/>
<circle cx="382.3" cy="246.6" r="2.2" fill="none" stroke="#000" stroke-width="1.4"/>
<circle cx="382.3" cy="255.3" r="2.2" fill="none" stroke="#000" stroke-width="1.4"/>
<circle cx="382.3" cy="258.7" r="2.2" fill="none" stroke="#000" stroke-width="1.4"/>
<circle cx="382.3" cy="263.4" r="2.2" fill="none" stroke="#000" stroke-width="1.4"/>
<circle cx="382.3" cy="268.8" r="2.2" fill="none" stroke="#000" stroke-width="1.4"/>
<circle cx="394.2" cy="244.5" r="2.75" fill="#000"/>
<circle cx="394.2" cy="252" r="2.75" fill="#000"/>
<circle cx="394.2" cy="255.3" r="2.75" fill="#000"/>
<circle cx="394.2" cy="258.7" r="2.75" fill="#000"/>
<circle cx="394.2" cy="271.5" r="2.75" fill="#000"/>
<circle cx="394.2" cy="284.9" r="2.75" fill="#000"/>
<circle cx="394.2" cy="287.6" r="2.75" fill="#000"/>
<circle cx="415.2" cy="191.1" r="2.2" fill="none" stroke="#000" stroke-width="1.4"/>
<circle cx="415.2" cy="208.9" r="2.2" fill="none" stroke="#000" stroke-width="1.4"/>
<circle cx="415.2" cy="211.6" r="2.2" fill="none" stroke="#000" stroke-width="1.4"/>
<circle cx="415.2" cy="213.6" r="2.2" fill="none" stroke="#000" stroke-width="1.4"/>
<circle cx="415.2" cy="215.6" r="2.2" fill="none" stroke="#000" stroke-width="1.4"/>
<circle cx="415.2" cy="243.9" r="2.2" fill="none" stroke="#000" stroke-width="1.4"/>
<circle cx="415.2" cy="246.6" r="2.2" fill="none" stroke="#000" stroke-width="1.4"/>
<circle cx="415.2" cy="252" r="2.2" fill="none" stroke="#000" stroke-width="1.4"/>
<circle cx="415.2" cy="257.3" r="2.2" fill="none" stroke="#000" stroke-width="1.4"/>
<circle cx="415.2" cy="266.1" r="2.2" fill="none" stroke="#000" stroke-width="1.4"/>
<circle cx="415.2" cy="274.2" r="2.2" fill="none" stroke="#000" stroke-width="1.4"/>
<circle cx="415.2" cy="277.5" r="2.2" fill="none" stroke="#000" stroke-width="1.4"/>
<circle cx="415.2" cy="280.9" r="2.2" fill="none" stroke="#000" stroke-width="1.4"/>
<circle cx="415.2" cy="283.6" r="2.2" fill="none" stroke="#000" stroke-width="1.4"/>
<circle cx="415.2" cy="286.3" r="2.2" fill="none" stroke="#000" stroke-width="1.4"/>
<circle cx="426.5" cy="237.8" r="2.75" fill="#000"/>
<circle cx="426.5" cy="246.6" r="2.75" fill="#000"/>
<circle cx="426.5" cy="256.7" r="2.75" fill="#000"/>
<circle cx="426.5" cy="278.2" r="2.75" fill="#000"/>
<circle cx="426.5" cy="281.6" r="2.75" fill="#000"/>
<circle cx="426.5" cy="284.9" r="2.75" fill="#000"/>
<circle cx="426.5" cy="287.6" r="2.75" fill="#000"/>
<circle cx="449.0" cy="213.6" r="2.2" fill="none" stroke="#000" stroke-width="1.4"/>
<circle cx="449.0" cy="216.3" r="2.2" fill="none" stroke="#000" stroke-width="1.4"/>
<circle cx="449.0" cy="218.3" r="2.2" fill="none" stroke="#000" stroke-width="1.4"/>
<circle cx="449.0" cy="229.7" r="2.2" fill="none" stroke="#000" stroke-width="1.4"/>
<circle cx="449.0" cy="232.4" r="2.2" fill="none" stroke="#000" stroke-width="1.4"/>
<circle cx="449.0" cy="235.1" r="2.2" fill="none" stroke="#000" stroke-width="1.4"/>
<circle cx="449.0" cy="239.8" r="2.2" fill="none" stroke="#000" stroke-width="1.4"/>
<circle cx="449.0" cy="260" r="2.2" fill="none" stroke="#000" stroke-width="1.4"/>
<circle cx="449.0" cy="262.7" r="2.2" fill="none" stroke="#000" stroke-width="1.4"/>
<circle cx="449.0" cy="265.4" r="2.2" fill="none" stroke="#000" stroke-width="1.4"/>
<circle cx="449.0" cy="268.1" r="2.2" fill="none" stroke="#000" stroke-width="1.4"/>
<circle cx="449.0" cy="270.8" r="2.2" fill="none" stroke="#000" stroke-width="1.4"/>
<circle cx="449.0" cy="276.8" r="2.2" fill="none" stroke="#000" stroke-width="1.4"/>
<circle cx="449.0" cy="282.9" r="2.2" fill="none" stroke="#000" stroke-width="1.4"/>
<circle cx="458.5" cy="206.2" r="2.75" fill="#000"/>
<circle cx="458.5" cy="247.2" r="2.75" fill="#000"/>
<circle cx="458.5" cy="260.7" r="2.75" fill="#000"/>
<circle cx="458.5" cy="263.4" r="2.75" fill="#000"/>
<circle cx="458.5" cy="266.8" r="2.75" fill="#000"/>
<circle cx="458.5" cy="270.1" r="2.75" fill="#000"/>
<circle cx="458.5" cy="273.5" r="2.75" fill="#000"/>
<circle cx="458.5" cy="278.9" r="2.75" fill="#000"/>
<circle cx="458.5" cy="281.6" r="2.75" fill="#000"/>
<circle cx="458.5" cy="284.3" r="2.75" fill="#000"/>
<circle cx="458.5" cy="286.9" r="2.75" fill="#000"/>
<circle cx="481.3" cy="171.5" r="2.2" fill="none" stroke="#000" stroke-width="1.4"/>
<circle cx="481.3" cy="229.1" r="2.2" fill="none" stroke="#000" stroke-width="1.4"/>
<circle cx="481.3" cy="231.8" r="2.2" fill="none" stroke="#000" stroke-width="1.4"/>
<circle cx="481.3" cy="242.5" r="2.2" fill="none" stroke="#000" stroke-width="1.4"/>
<circle cx="481.3" cy="258.7" r="2.2" fill="none" stroke="#000" stroke-width="1.4"/>
<circle cx="481.3" cy="266.8" r="2.2" fill="none" stroke="#000" stroke-width="1.4"/>
<circle cx="481.3" cy="270.1" r="2.2" fill="none" stroke="#000" stroke-width="1.4"/>
<circle cx="481.3" cy="273.5" r="2.2" fill="none" stroke="#000" stroke-width="1.4"/>
<circle cx="481.3" cy="276.2" r="2.2" fill="none" stroke="#000" stroke-width="1.4"/>
<circle cx="481.3" cy="279.5" r="2.2" fill="none" stroke="#000" stroke-width="1.4"/>
<circle cx="481.3" cy="282.9" r="2.2" fill="none" stroke="#000" stroke-width="1.4"/>
<circle cx="481.3" cy="286.3" r="2.2" fill="none" stroke="#000" stroke-width="1.4"/>
<circle cx="491.6" cy="171" r="2.75" fill="#000"/>
<circle cx="491.6" cy="244.5" r="2.75" fill="#000"/>
<circle cx="491.6" cy="254.6" r="2.75" fill="#000"/>
<circle cx="491.6" cy="272.8" r="2.75" fill="#000"/>
<circle cx="491.6" cy="276.2" r="2.75" fill="#000"/>
<circle cx="491.6" cy="282.9" r="2.75" fill="#000"/>
<circle cx="491.6" cy="286.3" r="2.75" fill="#000"/>
<circle cx="491.6" cy="289" r="2.75" fill="#000"/>
<rect x="109.2" y="235.20000000000002" width="13.399999999999991" height="2.4" fill="#000"/>
<rect x="120.9" y="261.5" width="13.799999999999983" height="2.4" fill="#000"/>
<rect x="143" y="253.8" width="13.5" height="2.4" fill="#000"/>
<rect x="153.8" y="268.6" width="13.5" height="2.4" fill="#000"/>
<rect x="175.8" y="256.5" width="13.699999999999989" height="2.4" fill="#000"/>
<rect x="185.5" y="251.10000000000002" width="14.099999999999994" height="2.4" fill="#000"/>
<rect x="207" y="265.5" width="12.800000000000011" height="2.4" fill="#000"/>
<rect x="216.5" y="266.2" width="14.099999999999994" height="2.4" fill="#000"/>
<rect x="242" y="230.60000000000002" width="13.900000000000006" height="2.4" fill="#000"/>
<rect x="253.5" y="266.2" width="14.100000000000023" height="2.4" fill="#000"/>
<rect x="275" y="226.8" width="13.5" height="2.4" fill="#000"/>
<rect x="286.5" y="267.2" width="13.800000000000011" height="2.4" fill="#000"/>
<rect x="307.4" y="249.10000000000002" width="14.100000000000023" height="2.4" fill="#000"/>
<rect x="318.8" y="264.2" width="13.899999999999977" height="2.4" fill="#000"/>
<rect x="340.1" y="254.8" width="13.699999999999989" height="2.4" fill="#000"/>
<rect x="351.1" y="266.90000000000003" width="13.899999999999977" height="2.4" fill="#000"/>
<rect x="375.8" y="226.5" width="13.699999999999989" height="2.4" fill="#000"/>
<rect x="387.9" y="266.2" width="13.700000000000045" height="2.4" fill="#000"/>
<rect x="409" y="247.8" width="13.5" height="2.4" fill="#000"/>
<rect x="420.5" y="265.6" width="14.100000000000023" height="2.4" fill="#000"/>
<rect x="440.4" y="245.4" width="13.5" height="2.4" fill="#000"/>
<rect x="453.5" y="262.8" width="13.399999999999977" height="2.4" fill="#000"/>
<rect x="475" y="255.10000000000002" width="13.899999999999977" height="2.4" fill="#000"/>
<rect x="485.1" y="258.8" width="13.699999999999989" height="2.4" fill="#000"/>
<path d="M114.4,105.4 V101.9 Q114.4,99.9 116.4,99.9 H120.7 Q122.2,99.9 122.2,98.4 V93.2 M122.2,98.4 Q122.2,99.9 123.7,99.9 H128 Q130,99.9 130,101.9 V105.4" fill="none" stroke="#e4141e" stroke-width="2.3"/>
<path d="M249.6,113.2 V109.7 Q249.6,107.7 251.6,107.7 H255.7 Q257.2,107.7 257.2,106.2 V100.4 M257.2,106.2 Q257.2,107.7 258.7,107.7 H262.8 Q264.8,107.7 264.8,109.7 V113.2" fill="none" stroke="#e4141e" stroke-width="2.3"/>
<path d="M384.6,123.4 V119.9 Q384.6,117.9 386.6,117.9 H391.55 Q393.05,117.9 393.05,116.4 V111.5 M393.05,116.4 Q393.05,117.9 394.55,117.9 H399.5 Q401.5,117.9 401.5,119.9 V123.4" fill="none" stroke="#e4141e" stroke-width="2.3"/>
<text x="128.3" y="94.1" font-size="13.5"><tspan font-style="italic">P</tspan> = .07</text>
<text x="264.6" y="101.2" font-size="13.5"><tspan font-style="italic">P</tspan> = .0008</text>
<text x="394.8" y="106.8" font-size="13.5"><tspan font-style="italic">P</tspan> = .0007</text>
<circle cx="115.4" cy="472.2" r="2.2" fill="none" stroke="#000" stroke-width="1.4"/>
<circle cx="115.4" cy="478.8" r="2.2" fill="none" stroke="#000" stroke-width="1.4"/>
<circle cx="115.4" cy="506.2" r="2.2" fill="none" stroke="#000" stroke-width="1.4"/>
<circle cx="115.4" cy="510.2" r="2.2" fill="none" stroke="#000" stroke-width="1.4"/>
<circle cx="115.4" cy="517.6" r="2.2" fill="none" stroke="#000" stroke-width="1.4"/>
<circle cx="115.4" cy="523.7" r="2.2" fill="none" stroke="#000" stroke-width="1.4"/>
<circle cx="115.4" cy="527.7" r="2.2" fill="none" stroke="#000" stroke-width="1.4"/>
<circle cx="115.4" cy="530.4" r="2.2" fill="none" stroke="#000" stroke-width="1.4"/>
<circle cx="115.4" cy="533.1" r="2.2" fill="none" stroke="#000" stroke-width="1.4"/>
<circle cx="115.4" cy="535.8" r="2.2" fill="none" stroke="#000" stroke-width="1.4"/>
<circle cx="115.4" cy="538.5" r="2.2" fill="none" stroke="#000" stroke-width="1.4"/>
<circle cx="115.4" cy="541.2" r="2.2" fill="none" stroke="#000" stroke-width="1.4"/>
<circle cx="115.4" cy="544.6" r="2.2" fill="none" stroke="#000" stroke-width="1.4"/>
<circle cx="115.4" cy="551.3" r="2.2" fill="none" stroke="#000" stroke-width="1.4"/>
<circle cx="115.4" cy="556.7" r="2.2" fill="none" stroke="#000" stroke-width="1.4"/>
<circle cx="115.4" cy="560.7" r="2.2" fill="none" stroke="#000" stroke-width="1.4"/>
<circle cx="115.4" cy="564.8" r="2.2" fill="none" stroke="#000" stroke-width="1.4"/>
<circle cx="115.4" cy="570.1" r="2.2" fill="none" stroke="#000" stroke-width="1.4"/>
<circle cx="115.4" cy="572.8" r="2.2" fill="none" stroke="#000" stroke-width="1.4"/>
<circle cx="115.4" cy="575.5" r="2.2" fill="none" stroke="#000" stroke-width="1.4"/>
<circle cx="126.9" cy="535.1" r="2.75" fill="#000"/>
<circle cx="126.9" cy="538.5" r="2.75" fill="#000"/>
<circle cx="126.9" cy="541.2" r="2.75" fill="#000"/>
<circle cx="126.9" cy="546.6" r="2.75" fill="#000"/>
<circle cx="126.9" cy="559.4" r="2.75" fill="#000"/>
<circle cx="126.9" cy="562" r="2.75" fill="#000"/>
<circle cx="126.9" cy="564.8" r="2.75" fill="#000"/>
<circle cx="126.9" cy="567.4" r="2.75" fill="#000"/>
<circle cx="126.9" cy="577.5" r="2.75" fill="#000"/>
<circle cx="147.1" cy="484.7" r="2.2" fill="none" stroke="#000" stroke-width="1.4"/>
<circle cx="147.1" cy="489.4" r="2.2" fill="none" stroke="#000" stroke-width="1.4"/>
<circle cx="147.1" cy="494.7" r="2.2" fill="none" stroke="#000" stroke-width="1.4"/>
<circle cx="147.1" cy="504.9" r="2.2" fill="none" stroke="#000" stroke-width="1.4"/>
<circle cx="147.1" cy="507.6" r="2.2" fill="none" stroke="#000" stroke-width="1.4"/>
<circle cx="147.1" cy="510.2" r="2.2" fill="none" stroke="#000" stroke-width="1.4"/>
<circle cx="147.1" cy="521.7" r="2.2" fill="none" stroke="#000" stroke-width="1.4"/>
<circle cx="147.1" cy="524.4" r="2.2" fill="none" stroke="#000" stroke-width="1.4"/>
<circle cx="147.1" cy="527.1" r="2.2" fill="none" stroke="#000" stroke-width="1.4"/>
<circle cx="147.1" cy="529.8" r="2.2" fill="none" stroke="#000" stroke-width="1.4"/>
<circle cx="147.1" cy="532.5" r="2.2" fill="none" stroke="#000" stroke-width="1.4"/>
<circle cx="147.1" cy="546.6" r="2.2" fill="none" stroke="#000" stroke-width="1.4"/>
<circle cx="147.1" cy="552.6" r="2.2" fill="none" stroke="#000" stroke-width="1.4"/>
<circle cx="147.1" cy="555.3" r="2.2" fill="none" stroke="#000" stroke-width="1.4"/>
<circle cx="147.1" cy="558" r="2.2" fill="none" stroke="#000" stroke-width="1.4"/>
<circle cx="147.1" cy="560.7" r="2.2" fill="none" stroke="#000" stroke-width="1.4"/>
<circle cx="147.1" cy="563.4" r="2.2" fill="none" stroke="#000" stroke-width="1.4"/>
<circle cx="147.1" cy="566.1" r="2.2" fill="none" stroke="#000" stroke-width="1.4"/>
<circle cx="147.1" cy="569.5" r="2.2" fill="none" stroke="#000" stroke-width="1.4"/>
<circle cx="160.7" cy="476.7" r="2.75" fill="#000"/>
<circle cx="160.7" cy="527.1" r="2.75" fill="#000"/>
<circle cx="160.7" cy="530.4" r="2.75" fill="#000"/>
<circle cx="160.7" cy="533.8" r="2.75" fill="#000"/>
<circle cx="160.7" cy="537.2" r="2.75" fill="#000"/>
<circle cx="160.7" cy="541.2" r="2.75" fill="#000"/>
<circle cx="160.7" cy="550" r="2.75" fill="#000"/>
<circle cx="160.7" cy="566.8" r="2.75" fill="#000"/>
<circle cx="160.7" cy="583.6" r="2.75" fill="#000"/>
<circle cx="182.4" cy="496.8" r="2.2" fill="none" stroke="#000" stroke-width="1.4"/>
<circle cx="182.4" cy="517" r="2.2" fill="none" stroke="#000" stroke-width="1.4"/>
<circle cx="182.4" cy="525" r="2.2" fill="none" stroke="#000" stroke-width="1.4"/>
<circle cx="182.4" cy="527.7" r="2.2" fill="none" stroke="#000" stroke-width="1.4"/>
<circle cx="182.4" cy="530.4" r="2.2" fill="none" stroke="#000" stroke-width="1.4"/>
<circle cx="182.4" cy="533.1" r="2.2" fill="none" stroke="#000" stroke-width="1.4"/>
<circle cx="182.4" cy="535.8" r="2.2" fill="none" stroke="#000" stroke-width="1.4"/>
<circle cx="182.4" cy="541.2" r="2.2" fill="none" stroke="#000" stroke-width="1.4"/>
<circle cx="182.4" cy="544.6" r="2.2" fill="none" stroke="#000" stroke-width="1.4"/>
<circle cx="182.4" cy="547.3" r="2.2" fill="none" stroke="#000" stroke-width="1.4"/>
<circle cx="182.4" cy="550" r="2.2" fill="none" stroke="#000" stroke-width="1.4"/>
<circle cx="182.4" cy="557.4" r="2.2" fill="none" stroke="#000" stroke-width="1.4"/>
<circle cx="182.4" cy="562.1" r="2.2" fill="none" stroke="#000" stroke-width="1.4"/>
<circle cx="182.4" cy="570.8" r="2.2" fill="none" stroke="#000" stroke-width="1.4"/>
<circle cx="182.4" cy="573.5" r="2.2" fill="none" stroke="#000" stroke-width="1.4"/>
<circle cx="182.4" cy="576.2" r="2.2" fill="none" stroke="#000" stroke-width="1.4"/>
<circle cx="192.8" cy="450.9" r="2.75" fill="#000"/>
<circle cx="192.8" cy="473" r="2.75" fill="#000"/>
<circle cx="192.8" cy="543.2" r="2.75" fill="#000"/>
<circle cx="192.8" cy="546.6" r="2.75" fill="#000"/>
<circle cx="192.8" cy="550" r="2.75" fill="#000"/>
<circle cx="192.8" cy="553.3" r="2.75" fill="#000"/>
<circle cx="192.8" cy="556.7" r="2.75" fill="#000"/>
<circle cx="192.8" cy="566.8" r="2.75" fill="#000"/>
<circle cx="192.8" cy="568.8" r="2.75" fill="#000"/>
<circle cx="212.1" cy="418.3" r="2.2" fill="none" stroke="#000" stroke-width="1.4"/>
<circle cx="212.1" cy="457.6" r="2.2" fill="none" stroke="#000" stroke-width="1.4"/>
<circle cx="212.1" cy="462.4" r="2.2" fill="none" stroke="#000" stroke-width="1.4"/>
<circle cx="212.1" cy="474" r="2.2" fill="none" stroke="#000" stroke-width="1.4"/>
<circle cx="212.1" cy="481.5" r="2.2" fill="none" stroke="#000" stroke-width="1.4"/>
<circle cx="212.1" cy="486.8" r="2.2" fill="none" stroke="#000" stroke-width="1.4"/>
<circle cx="212.1" cy="497.8" r="2.2" fill="none" stroke="#000" stroke-width="1.4"/>
<circle cx="212.1" cy="506.2" r="2.2" fill="none" stroke="#000" stroke-width="1.4"/>
<circle cx="212.1" cy="519.7" r="2.2" fill="none" stroke="#000" stroke-width="1.4"/>
<circle cx="212.1" cy="524.4" r="2.2" fill="none" stroke="#000" stroke-width="1.4"/>
<circle cx="212.1" cy="529.8" r="2.2" fill="none" stroke="#000" stroke-width="1.4"/>
<circle cx="212.1" cy="533.1" r="2.2" fill="none" stroke="#000" stroke-width="1.4"/>
<circle cx="212.1" cy="545.2" r="2.2" fill="none" stroke="#000" stroke-width="1.4"/>
<circle cx="212.1" cy="554" r="2.2" fill="none" stroke="#000" stroke-width="1.4"/>
<circle cx="212.1" cy="564.8" r="2.2" fill="none" stroke="#000" stroke-width="1.4"/>
<circle cx="223.9" cy="422.5" r="2.75" fill="#000"/>
<circle cx="223.9" cy="452.8" r="2.75" fill="#000"/>
<circle cx="223.9" cy="477.5" r="2.75" fill="#000"/>
<circle cx="223.9" cy="481.5" r="2.75" fill="#000"/>
<circle cx="223.9" cy="485.4" r="2.75" fill="#000"/>
<circle cx="223.9" cy="512.3" r="2.75" fill="#000"/>
<circle cx="223.9" cy="516.3" r="2.75" fill="#000"/>
<circle cx="223.9" cy="519.7" r="2.75" fill="#000"/>
<circle cx="223.9" cy="541.2" r="2.75" fill="#000"/>
<circle cx="248.4" cy="521.7" r="2.2" fill="none" stroke="#000" stroke-width="1.4"/>
<circle cx="248.4" cy="531.8" r="2.2" fill="none" stroke="#000" stroke-width="1.4"/>
<circle cx="248.4" cy="538.5" r="2.2" fill="none" stroke="#000" stroke-width="1.4"/>
<circle cx="248.4" cy="541.9" r="2.2" fill="none" stroke="#000" stroke-width="1.4"/>
<circle cx="248.4" cy="544.6" r="2.2" fill="none" stroke="#000" stroke-width="1.4"/>
<circle cx="248.4" cy="547.3" r="2.2" fill="none" stroke="#000" stroke-width="1.4"/>
<circle cx="248.4" cy="549.9" r="2.2" fill="none" stroke="#000" stroke-width="1.4"/>
<circle cx="248.4" cy="552.6" r="2.2" fill="none" stroke="#000" stroke-width="1.4"/>
<circle cx="248.4" cy="555.3" r="2.2" fill="none" stroke="#000" stroke-width="1.4"/>
<circle cx="248.4" cy="558" r="2.2" fill="none" stroke="#000" stroke-width="1.4"/>
<circle cx="248.4" cy="560.7" r="2.2" fill="none" stroke="#000" stroke-width="1.4"/>
<circle cx="248.4" cy="563.4" r="2.2" fill="none" stroke="#000" stroke-width="1.4"/>
<circle cx="248.4" cy="566.1" r="2.2" fill="none" stroke="#000" stroke-width="1.4"/>
<circle cx="248.4" cy="568.8" r="2.2" fill="none" stroke="#000" stroke-width="1.4"/>
<circle cx="248.4" cy="571.5" r="2.2" fill="none" stroke="#000" stroke-width="1.4"/>
<circle cx="248.4" cy="574.2" r="2.2" fill="none" stroke="#000" stroke-width="1.4"/>
<circle cx="260.2" cy="521.7" r="2.75" fill="#000"/>
<circle cx="260.2" cy="528.4" r="2.75" fill="#000"/>
<circle cx="260.2" cy="531.8" r="2.75" fill="#000"/>
<circle cx="260.2" cy="534.5" r="2.75" fill="#000"/>
<circle cx="260.2" cy="540.5" r="2.75" fill="#000"/>
<circle cx="260.2" cy="557.4" r="2.75" fill="#000"/>
<circle cx="260.2" cy="560" r="2.75" fill="#000"/>
<circle cx="260.2" cy="570.1" r="2.75" fill="#000"/>
<circle cx="260.2" cy="572.8" r="2.75" fill="#000"/>
<circle cx="260.2" cy="575.5" r="2.75" fill="#000"/>
<circle cx="260.2" cy="578.2" r="2.75" fill="#000"/>
<circle cx="280.4" cy="478.8" r="2.2" fill="none" stroke="#000" stroke-width="1.4"/>
<circle cx="280.4" cy="482.8" r="2.2" fill="none" stroke="#000" stroke-width="1.4"/>
<circle cx="280.4" cy="486.8" r="2.2" fill="none" stroke="#000" stroke-width="1.4"/>
<circle cx="280.4" cy="497.9" r="2.2" fill="none" stroke="#000" stroke-width="1.4"/>
<circle cx="280.4" cy="502.8" r="2.2" fill="none" stroke="#000" stroke-width="1.4"/>
<circle cx="280.4" cy="510.9" r="2.2" fill="none" stroke="#000" stroke-width="1.4"/>
<circle cx="280.4" cy="514.3" r="2.2" fill="none" stroke="#000" stroke-width="1.4"/>
<circle cx="280.4" cy="518.3" r="2.2" fill="none" stroke="#000" stroke-width="1.4"/>
<circle cx="280.4" cy="522.4" r="2.2" fill="none" stroke="#000" stroke-width="1.4"/>
<circle cx="280.4" cy="525.7" r="2.2" fill="none" stroke="#000" stroke-width="1.4"/>
<circle cx="280.4" cy="535.1" r="2.2" fill="none" stroke="#000" stroke-width="1.4"/>
<circle cx="280.4" cy="539.2" r="2.2" fill="none" stroke="#000" stroke-width="1.4"/>
<circle cx="280.4" cy="542.5" r="2.2" fill="none" stroke="#000" stroke-width="1.4"/>
<circle cx="280.4" cy="545.9" r="2.2" fill="none" stroke="#000" stroke-width="1.4"/>
<circle cx="280.4" cy="549.3" r="2.2" fill="none" stroke="#000" stroke-width="1.4"/>
<circle cx="280.4" cy="552.6" r="2.2" fill="none" stroke="#000" stroke-width="1.4"/>
<circle cx="280.4" cy="556.7" r="2.2" fill="none" stroke="#000" stroke-width="1.4"/>
<circle cx="280.4" cy="560.7" r="2.2" fill="none" stroke="#000" stroke-width="1.4"/>
<circle cx="280.4" cy="564.1" r="2.2" fill="none" stroke="#000" stroke-width="1.4"/>
<circle cx="280.4" cy="567.4" r="2.2" fill="none" stroke="#000" stroke-width="1.4"/>
<circle cx="293.4" cy="477.5" r="2.75" fill="#000"/>
<circle cx="293.4" cy="492.7" r="2.75" fill="#000"/>
<circle cx="293.4" cy="496.1" r="2.75" fill="#000"/>
<circle cx="293.4" cy="499.5" r="2.75" fill="#000"/>
<circle cx="293.4" cy="502.8" r="2.75" fill="#000"/>
<circle cx="293.4" cy="537.2" r="2.75" fill="#000"/>
<circle cx="293.4" cy="540.5" r="2.75" fill="#000"/>
<circle cx="293.4" cy="543.9" r="2.75" fill="#000"/>
<circle cx="293.4" cy="550" r="2.75" fill="#000"/>
<circle cx="293.4" cy="564.8" r="2.75" fill="#000"/>
<circle cx="293.4" cy="568.1" r="2.75" fill="#000"/>
<circle cx="293.4" cy="570.8" r="2.75" fill="#000"/>
<circle cx="315.0" cy="512.9" r="2.2" fill="none" stroke="#000" stroke-width="1.4"/>
<circle cx="315.0" cy="516.3" r="2.2" fill="none" stroke="#000" stroke-width="1.4"/>
<circle cx="315.0" cy="519.7" r="2.2" fill="none" stroke="#000" stroke-width="1.4"/>
<circle cx="315.0" cy="523" r="2.2" fill="none" stroke="#000" stroke-width="1.4"/>
<circle cx="315.0" cy="525.7" r="2.2" fill="none" stroke="#000" stroke-width="1.4"/>
<circle cx="315.0" cy="529.1" r="2.2" fill="none" stroke="#000" stroke-width="1.4"/>
<circle cx="315.0" cy="531.8" r="2.2" fill="none" stroke="#000" stroke-width="1.4"/>
<circle cx="315.0" cy="534.5" r="2.2" fill="none" stroke="#000" stroke-width="1.4"/>
<circle cx="315.0" cy="537.2" r="2.2" fill="none" stroke="#000" stroke-width="1.4"/>
<circle cx="315.0" cy="539.2" r="2.2" fill="none" stroke="#000" stroke-width="1.4"/>
<circle cx="315.0" cy="541.9" r="2.2" fill="none" stroke="#000" stroke-width="1.4"/>
<circle cx="315.0" cy="554" r="2.2" fill="none" stroke="#000" stroke-width="1.4"/>
<circle cx="315.0" cy="556.7" r="2.2" fill="none" stroke="#000" stroke-width="1.4"/>
<circle cx="315.0" cy="559.4" r="2.2" fill="none" stroke="#000" stroke-width="1.4"/>
<circle cx="315.0" cy="562.1" r="2.2" fill="none" stroke="#000" stroke-width="1.4"/>
<circle cx="315.0" cy="564.8" r="2.2" fill="none" stroke="#000" stroke-width="1.4"/>
<circle cx="315.0" cy="567.4" r="2.2" fill="none" stroke="#000" stroke-width="1.4"/>
<circle cx="315.0" cy="570.1" r="2.2" fill="none" stroke="#000" stroke-width="1.4"/>
<circle cx="315.0" cy="572.8" r="2.2" fill="none" stroke="#000" stroke-width="1.4"/>
<circle cx="315.0" cy="575.5" r="2.2" fill="none" stroke="#000" stroke-width="1.4"/>
<circle cx="325.1" cy="500.8" r="2.75" fill="#000"/>
<circle cx="325.1" cy="503.5" r="2.75" fill="#000"/>
<circle cx="325.1" cy="520.3" r="2.75" fill="#000"/>
<circle cx="325.1" cy="523" r="2.75" fill="#000"/>
<circle cx="325.1" cy="539.2" r="2.75" fill="#000"/>
<circle cx="325.1" cy="553.3" r="2.75" fill="#000"/>
<circle cx="325.1" cy="556.7" r="2.75" fill="#000"/>
<circle cx="325.1" cy="559.4" r="2.75" fill="#000"/>
<circle cx="325.1" cy="576.9" r="2.75" fill="#000"/>
<circle cx="346.1" cy="431.6" r="2.2" fill="none" stroke="#000" stroke-width="1.4"/>
<circle cx="346.1" cy="433.2" r="2.2" fill="none" stroke="#000" stroke-width="1.4"/>
<circle cx="346.1" cy="441.1" r="2.2" fill="none" stroke="#000" stroke-width="1.4"/>
<circle cx="346.1" cy="451.7" r="2.2" fill="none" stroke="#000" stroke-width="1.4"/>
<circle cx="346.1" cy="469.5" r="2.2" fill="none" stroke="#000" stroke-width="1.4"/>
<circle cx="346.1" cy="483.6" r="2.2" fill="none" stroke="#000" stroke-width="1.4"/>
<circle cx="346.1" cy="490" r="2.2" fill="none" stroke="#000" stroke-width="1.4"/>
<circle cx="346.1" cy="498.8" r="2.2" fill="none" stroke="#000" stroke-width="1.4"/>
<circle cx="346.1" cy="501.5" r="2.2" fill="none" stroke="#000" stroke-width="1.4"/>
<circle cx="346.1" cy="504.9" r="2.2" fill="none" stroke="#000" stroke-width="1.4"/>
<circle cx="346.1" cy="508.2" r="2.2" fill="none" stroke="#000" stroke-width="1.4"/>
<circle cx="346.1" cy="511.6" r="2.2" fill="none" stroke="#000" stroke-width="1.4"/>
<circle cx="346.1" cy="515" r="2.2" fill="none" stroke="#000" stroke-width="1.4"/>
<circle cx="346.1" cy="518.3" r="2.2" fill="none" stroke="#000" stroke-width="1.4"/>
<circle cx="346.1" cy="522.4" r="2.2" fill="none" stroke="#000" stroke-width="1.4"/>
<circle cx="346.1" cy="533.8" r="2.2" fill="none" stroke="#000" stroke-width="1.4"/>
<circle cx="346.1" cy="536.5" r="2.2" fill="none" stroke="#000" stroke-width="1.4"/>
<circle cx="356.6" cy="433.7" r="2.75" fill="#000"/>
<circle cx="356.6" cy="450.9" r="2.75" fill="#000"/>
<circle cx="356.6" cy="472.2" r="2.75" fill="#000"/>
<circle cx="356.6" cy="478.3" r="2.75" fill="#000"/>
<circle cx="356.6" cy="490" r="2.75" fill="#000"/>
<circle cx="356.6" cy="506.2" r="2.75" fill="#000"/>
<circle cx="356.6" cy="510.2" r="2.75" fill="#000"/>
<circle cx="356.6" cy="525.7" r="2.75" fill="#000"/>
<circle cx="356.6" cy="538.5" r="2.75" fill="#000"/>
<circle cx="381.2" cy="527.7" r="2.2" fill="none" stroke="#000" stroke-width="1.4"/>
<circle cx="381.2" cy="535.1" r="2.2" fill="none" stroke="#000" stroke-width="1.4"/>
<circle cx="381.2" cy="537.8" r="2.2" fill="none" stroke="#000" stroke-width="1.4"/>
<circle cx="381.2" cy="541.2" r="2.2" fill="none" stroke="#000" stroke-width="1.4"/>
<circle cx="381.2" cy="544.6" r="2.2" fill="none" stroke="#000" stroke-width="1.4"/>
<circle cx="381.2" cy="547.9" r="2.2" fill="none" stroke="#000" stroke-width="1.4"/>
<circle cx="381.2" cy="554" r="2.2" fill="none" stroke="#000" stroke-width="1.4"/>
<circle cx="381.2" cy="557.4" r="2.2" fill="none" stroke="#000" stroke-width="1.4"/>
<circle cx="381.2" cy="560" r="2.2" fill="none" stroke="#000" stroke-width="1.4"/>
<circle cx="381.2" cy="562.7" r="2.2" fill="none" stroke="#000" stroke-width="1.4"/>
<circle cx="381.2" cy="565.4" r="2.2" fill="none" stroke="#000" stroke-width="1.4"/>
<circle cx="381.2" cy="568.1" r="2.2" fill="none" stroke="#000" stroke-width="1.4"/>
<circle cx="381.2" cy="570.8" r="2.2" fill="none" stroke="#000" stroke-width="1.4"/>
<circle cx="381.2" cy="573.5" r="2.2" fill="none" stroke="#000" stroke-width="1.4"/>
<circle cx="381.2" cy="576.2" r="2.2" fill="none" stroke="#000" stroke-width="1.4"/>
<circle cx="393.8" cy="534.5" r="2.75" fill="#000"/>
<circle cx="393.8" cy="537.2" r="2.75" fill="#000"/>
<circle cx="393.8" cy="540.5" r="2.75" fill="#000"/>
<circle cx="393.8" cy="542.5" r="2.75" fill="#000"/>
<circle cx="393.8" cy="559.4" r="2.75" fill="#000"/>
<circle cx="393.8" cy="562.1" r="2.75" fill="#000"/>
<circle cx="393.8" cy="564.8" r="2.75" fill="#000"/>
<circle cx="393.8" cy="567.4" r="2.75" fill="#000"/>
<circle cx="393.8" cy="573.5" r="2.75" fill="#000"/>
<circle cx="393.8" cy="576.2" r="2.75" fill="#000"/>
<circle cx="393.8" cy="584.3" r="2.75" fill="#000"/>
<circle cx="415.1" cy="484.6" r="2.2" fill="none" stroke="#000" stroke-width="1.4"/>
<circle cx="415.1" cy="486.8" r="2.2" fill="none" stroke="#000" stroke-width="1.4"/>
<circle cx="415.1" cy="492.1" r="2.2" fill="none" stroke="#000" stroke-width="1.4"/>
<circle cx="415.1" cy="519.3" r="2.2" fill="none" stroke="#000" stroke-width="1.4"/>
<circle cx="415.1" cy="529.1" r="2.2" fill="none" stroke="#000" stroke-width="1.4"/>
<circle cx="415.1" cy="531.8" r="2.2" fill="none" stroke="#000" stroke-width="1.4"/>
<circle cx="415.1" cy="535.1" r="2.2" fill="none" stroke="#000" stroke-width="1.4"/>
<circle cx="415.1" cy="538.5" r="2.2" fill="none" stroke="#000" stroke-width="1.4"/>
<circle cx="415.1" cy="541.9" r="2.2" fill="none" stroke="#000" stroke-width="1.4"/>
<circle cx="415.1" cy="544.6" r="2.2" fill="none" stroke="#000" stroke-width="1.4"/>
<circle cx="415.1" cy="547.9" r="2.2" fill="none" stroke="#000" stroke-width="1.4"/>
<circle cx="415.1" cy="551.3" r="2.2" fill="none" stroke="#000" stroke-width="1.4"/>
<circle cx="415.1" cy="554.7" r="2.2" fill="none" stroke="#000" stroke-width="1.4"/>
<circle cx="415.1" cy="558" r="2.2" fill="none" stroke="#000" stroke-width="1.4"/>
<circle cx="415.1" cy="576.2" r="2.2" fill="none" stroke="#000" stroke-width="1.4"/>
<circle cx="426.4" cy="451.7" r="2.75" fill="#000"/>
<circle cx="426.4" cy="476.7" r="2.75" fill="#000"/>
<circle cx="426.4" cy="521.7" r="2.75" fill="#000"/>
<circle cx="426.4" cy="524.4" r="2.75" fill="#000"/>
<circle cx="426.4" cy="531.8" r="2.75" fill="#000"/>
<circle cx="426.4" cy="545.9" r="2.75" fill="#000"/>
<circle cx="426.4" cy="556.7" r="2.75" fill="#000"/>
<circle cx="426.4" cy="569.5" r="2.75" fill="#000"/>
<circle cx="426.4" cy="572.2" r="2.75" fill="#000"/>
<circle cx="426.4" cy="574.2" r="2.75" fill="#000"/>
<circle cx="426.4" cy="582.2" r="2.75" fill="#000"/>
<circle cx="448.2" cy="474" r="2.2" fill="none" stroke="#000" stroke-width="1.4"/>
<circle cx="448.2" cy="531.1" r="2.2" fill="none" stroke="#000" stroke-width="1.4"/>
<circle cx="448.2" cy="533.8" r="2.2" fill="none" stroke="#000" stroke-width="1.4"/>
<circle cx="448.2" cy="537.2" r="2.2" fill="none" stroke="#000" stroke-width="1.4"/>
<circle cx="448.2" cy="540.5" r="2.2" fill="none" stroke="#000" stroke-width="1.4"/>
<circle cx="448.2" cy="543.9" r="2.2" fill="none" stroke="#000" stroke-width="1.4"/>
<circle cx="448.2" cy="547.3" r="2.2" fill="none" stroke="#000" stroke-width="1.4"/>
<circle cx="448.2" cy="550.6" r="2.2" fill="none" stroke="#000" stroke-width="1.4"/>
<circle cx="448.2" cy="554" r="2.2" fill="none" stroke="#000" stroke-width="1.4"/>
<circle cx="448.2" cy="557.4" r="2.2" fill="none" stroke="#000" stroke-width="1.4"/>
<circle cx="448.2" cy="560.7" r="2.2" fill="none" stroke="#000" stroke-width="1.4"/>
<circle cx="448.2" cy="563.4" r="2.2" fill="none" stroke="#000" stroke-width="1.4"/>
<circle cx="448.2" cy="566.1" r="2.2" fill="none" stroke="#000" stroke-width="1.4"/>
<circle cx="448.2" cy="569.5" r="2.2" fill="none" stroke="#000" stroke-width="1.4"/>
<circle cx="448.2" cy="572.2" r="2.2" fill="none" stroke="#000" stroke-width="1.4"/>
<circle cx="448.2" cy="575.5" r="2.2" fill="none" stroke="#000" stroke-width="1.4"/>
<circle cx="460.6" cy="517" r="2.75" fill="#000"/>
<circle cx="460.6" cy="520.3" r="2.75" fill="#000"/>
<circle cx="460.6" cy="547.3" r="2.75" fill="#000"/>
<circle cx="460.6" cy="550" r="2.75" fill="#000"/>
<circle cx="460.6" cy="552.6" r="2.75" fill="#000"/>
<circle cx="460.6" cy="566.1" r="2.75" fill="#000"/>
<circle cx="460.6" cy="568.1" r="2.75" fill="#000"/>
<circle cx="460.6" cy="575.5" r="2.75" fill="#000"/>
<circle cx="481.3" cy="399.7" r="2.2" fill="none" stroke="#000" stroke-width="1.4"/>
<circle cx="481.3" cy="453.6" r="2.2" fill="none" stroke="#000" stroke-width="1.4"/>
<circle cx="481.3" cy="470.3" r="2.2" fill="none" stroke="#000" stroke-width="1.4"/>
<circle cx="481.3" cy="484.6" r="2.2" fill="none" stroke="#000" stroke-width="1.4"/>
<circle cx="481.3" cy="496.1" r="2.2" fill="none" stroke="#000" stroke-width="1.4"/>
<circle cx="481.3" cy="501.5" r="2.2" fill="none" stroke="#000" stroke-width="1.4"/>
<circle cx="481.3" cy="506.2" r="2.2" fill="none" stroke="#000" stroke-width="1.4"/>
<circle cx="481.3" cy="510.9" r="2.2" fill="none" stroke="#000" stroke-width="1.4"/>
<circle cx="481.3" cy="514.3" r="2.2" fill="none" stroke="#000" stroke-width="1.4"/>
<circle cx="481.3" cy="517.6" r="2.2" fill="none" stroke="#000" stroke-width="1.4"/>
<circle cx="481.3" cy="521" r="2.2" fill="none" stroke="#000" stroke-width="1.4"/>
<circle cx="481.3" cy="524.4" r="2.2" fill="none" stroke="#000" stroke-width="1.4"/>
<circle cx="481.3" cy="532.5" r="2.2" fill="none" stroke="#000" stroke-width="1.4"/>
<circle cx="481.3" cy="542.5" r="2.2" fill="none" stroke="#000" stroke-width="1.4"/>
<circle cx="491.6" cy="386.7" r="2.75" fill="#000"/>
<circle cx="491.6" cy="441.1" r="2.75" fill="#000"/>
<circle cx="491.6" cy="452.8" r="2.75" fill="#000"/>
<circle cx="491.6" cy="463.4" r="2.75" fill="#000"/>
<circle cx="491.6" cy="481.5" r="2.75" fill="#000"/>
<circle cx="491.6" cy="490" r="2.75" fill="#000"/>
<circle cx="491.6" cy="492.6" r="2.75" fill="#000"/>
<circle cx="491.6" cy="508.2" r="2.75" fill="#000"/>
<circle cx="491.6" cy="510.9" r="2.75" fill="#000"/>
<circle cx="491.6" cy="513.6" r="2.75" fill="#000"/>
<circle cx="491.6" cy="550.6" r="2.75" fill="#000"/>
<rect x="108.8" y="539.3" width="14.100000000000009" height="2.4" fill="#000"/>
<rect x="120.2" y="556.8" width="14.100000000000009" height="2.4" fill="#000"/>
<rect x="140.4" y="532.5999999999999" width="13.900000000000006" height="2.4" fill="#000"/>
<rect x="153.9" y="536.0" width="13.599999999999994" height="2.4" fill="#000"/>
<rect x="176.1" y="543.5999999999999" width="14.099999999999994" height="2.4" fill="#000"/>
<rect x="186" y="535.0" width="14.300000000000011" height="2.4" fill="#000"/>
<rect x="205.3" y="504.1" width="14.299999999999983" height="2.4" fill="#000"/>
<rect x="216.5" y="487.90000000000003" width="14.099999999999994" height="2.4" fill="#000"/>
<rect x="242" y="552.0999999999999" width="13.5" height="2.4" fill="#000"/>
<rect x="254.2" y="549.8" width="13.800000000000011" height="2.4" fill="#000"/>
<rect x="274.4" y="530.5999999999999" width="14.100000000000023" height="2.4" fill="#000"/>
<rect x="286.1" y="526.9" width="14.199999999999989" height="2.4" fill="#000"/>
<rect x="308.1" y="549.4" width="14.099999999999966" height="2.4" fill="#000"/>
<rect x="318.2" y="538.6999999999999" width="14.5" height="2.4" fill="#000"/>
<rect x="338.3" y="492.90000000000003" width="14.199999999999989" height="2.4" fill="#000"/>
<rect x="350.5" y="490.90000000000003" width="13.399999999999977" height="2.4" fill="#000"/>
<rect x="374.4" y="552.0999999999999" width="14.0" height="2.4" fill="#000"/>
<rect x="386.5" y="559.1999999999999" width="14.0" height="2.4" fill="#000"/>
<rect x="408.1" y="533.6999999999999" width="13.699999999999989" height="2.4" fill="#000"/>
<rect x="419.8" y="532.5999999999999" width="14.099999999999966" height="2.4" fill="#000"/>
<rect x="441.4" y="546.3" width="14.100000000000023" height="2.4" fill="#000"/>
<rect x="453.9" y="545.0" width="14.400000000000034" height="2.4" fill="#000"/>
<rect x="474.3" y="496.3" width="14.599999999999966" height="2.4" fill="#000"/>
<rect x="484" y="476.3" width="14.699999999999989" height="2.4" fill="#000"/></svg></body></html>
